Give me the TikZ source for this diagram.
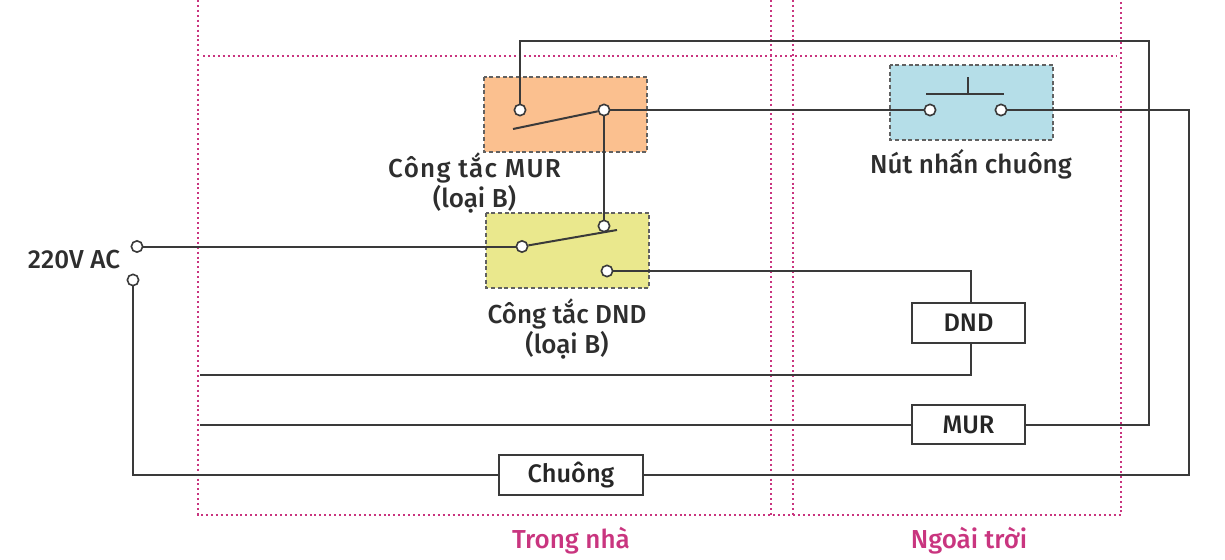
\documentclass[tikz,border=0pt]{standalone}
\usepackage{fontspec}
\setmainfont{Fira Sans Medium}
\definecolor{wire}{HTML}{3A3A3A}
\definecolor{zone}{HTML}{C9357F}
\definecolor{orangebox}{HTML}{FBC08F}
\definecolor{yellowbox}{HTML}{EAE88D}
\definecolor{bluebox}{HTML}{B5DEE8}
\tikzset{
  wireline/.style={draw=wire,line width=1.5pt},
  zoneline/.style={draw=zone,line width=1pt,dash pattern=on 1.5pt off 2.2pt},
  panel/.style={draw=wire!80,line width=0.9pt,dash pattern=on 3pt off 2pt},
  terminal/.style={circle,draw=wire,fill=white,line width=1.2pt,inner sep=0pt,minimum size=8.5pt},
  loadbox/.style={draw=wire,fill=white,line width=1.3pt,inner sep=0pt,font=\fontsize{19}{22}\selectfont,text=black!85},
  caption/.style={font=\fontsize{19.5}{22.5}\selectfont,text=black!82,align=center,inner sep=0pt},
  zonelabel/.style={font=\fontsize{19.5}{22}\selectfont,text=zone,inner sep=0pt}
}
\begin{document}
\begin{tikzpicture}[x=0.75pt,y=-0.75pt]
\useasboundingbox (0,0) rectangle (1225,560);
% coloured panels
\fill[orangebox] (484,77) rectangle (647,152);
\draw[panel] (484,77) rectangle (647,152);
\fill[yellowbox] (486,213) rectangle (649,288);
\draw[panel] (486,213) rectangle (649,288);
\fill[bluebox] (890,65) rectangle (1053,140);
\draw[panel] (890,65) rectangle (1053,140);
% zones
\draw[zoneline] (198,0) -- (198,515) -- (1121,515) -- (1121,0);
\draw[zoneline] (771,0) -- (771,515);
\draw[zoneline] (793,0) -- (793,515);
\draw[zoneline] (203,56) -- (1117,56);
% anchors
\coordinate (dndfree) at (200,375);
\coordinate (murfree) at (200,424.5);
\coordinate (leverm) at (513,129);
\coordinate (leverd) at (617,230);
\coordinate (barl) at (926,94);
\coordinate (barr) at (1004,94);
\coordinate (barm) at (968,94);
\coordinate (stem) at (968,77);
% terminals
\node[terminal] (acone) at (137,246.5) {};
\node[terminal] (actwo) at (133,280) {};
\node[terminal] (mura) at (520,110) {};
\node[terminal] (murb) at (604,110) {};
\node[terminal] (dnda) at (522,246.5) {};
\node[terminal] (dndb) at (604,226) {};
\node[terminal] (dndc) at (607,271) {};
\node[terminal] (btna) at (930,110) {};
\node[terminal] (btnb) at (1001,110) {};
% loads
\node[loadbox,minimum width=85pt,minimum height=29.5pt] (dndbox) at (968.5,323) {DND};
\node[loadbox,minimum width=85pt,minimum height=29.5pt] (murbox) at (968.5,424.5) {MUR};
\node[loadbox,minimum width=108pt,minimum height=30pt] (bellbox) at (571,475) {Chuông};
% wires
\draw[wireline] (acone) -- (dnda);
\draw[wireline] (dnda) -- (leverd);
\draw[wireline] (leverm) -- (murb);
\draw[wireline] (murb) -- (btna);
\draw[wireline] (murb) -- (dndb);
\draw[wireline] (mura.north) -- (520,41) -- (1149,41) -- (1149,424.5) -- (murbox.east);
\draw[wireline] (murbox.west) -- (murfree);
\draw[wireline] (dndc) -- (971,271) -- (971,303);
\draw[wireline] (971,343) -- (971,375) -- (dndfree);
\draw[wireline] (btnb) -- (1189,110) -- (1189,475) -- (bellbox.east);
\draw[wireline] (bellbox.west) -- (133,475) -- (actwo);
\draw[wireline] (barl) -- (barr);
\draw[wireline] (barm) -- (stem);
% labels
\node[caption] (lblac) at (74,260) {220V AC};
\node[caption] (lblmur) at (474.5,183) {\addfontfeature{LetterSpace=5}Công tắc MUR\\(loại B)};
\node[caption] (lbldnd) at (567,329) {Công tắc DND\\(loại B)};
\node[caption] (lblbtn) at (971,164) {Nút nhấn chuông};
\node[zonelabel] (lblin) at (571,541) {Trong nhà};
\node[zonelabel] (lblout) at (969,541) {Ngoài trời};
\end{tikzpicture}
\end{document}
